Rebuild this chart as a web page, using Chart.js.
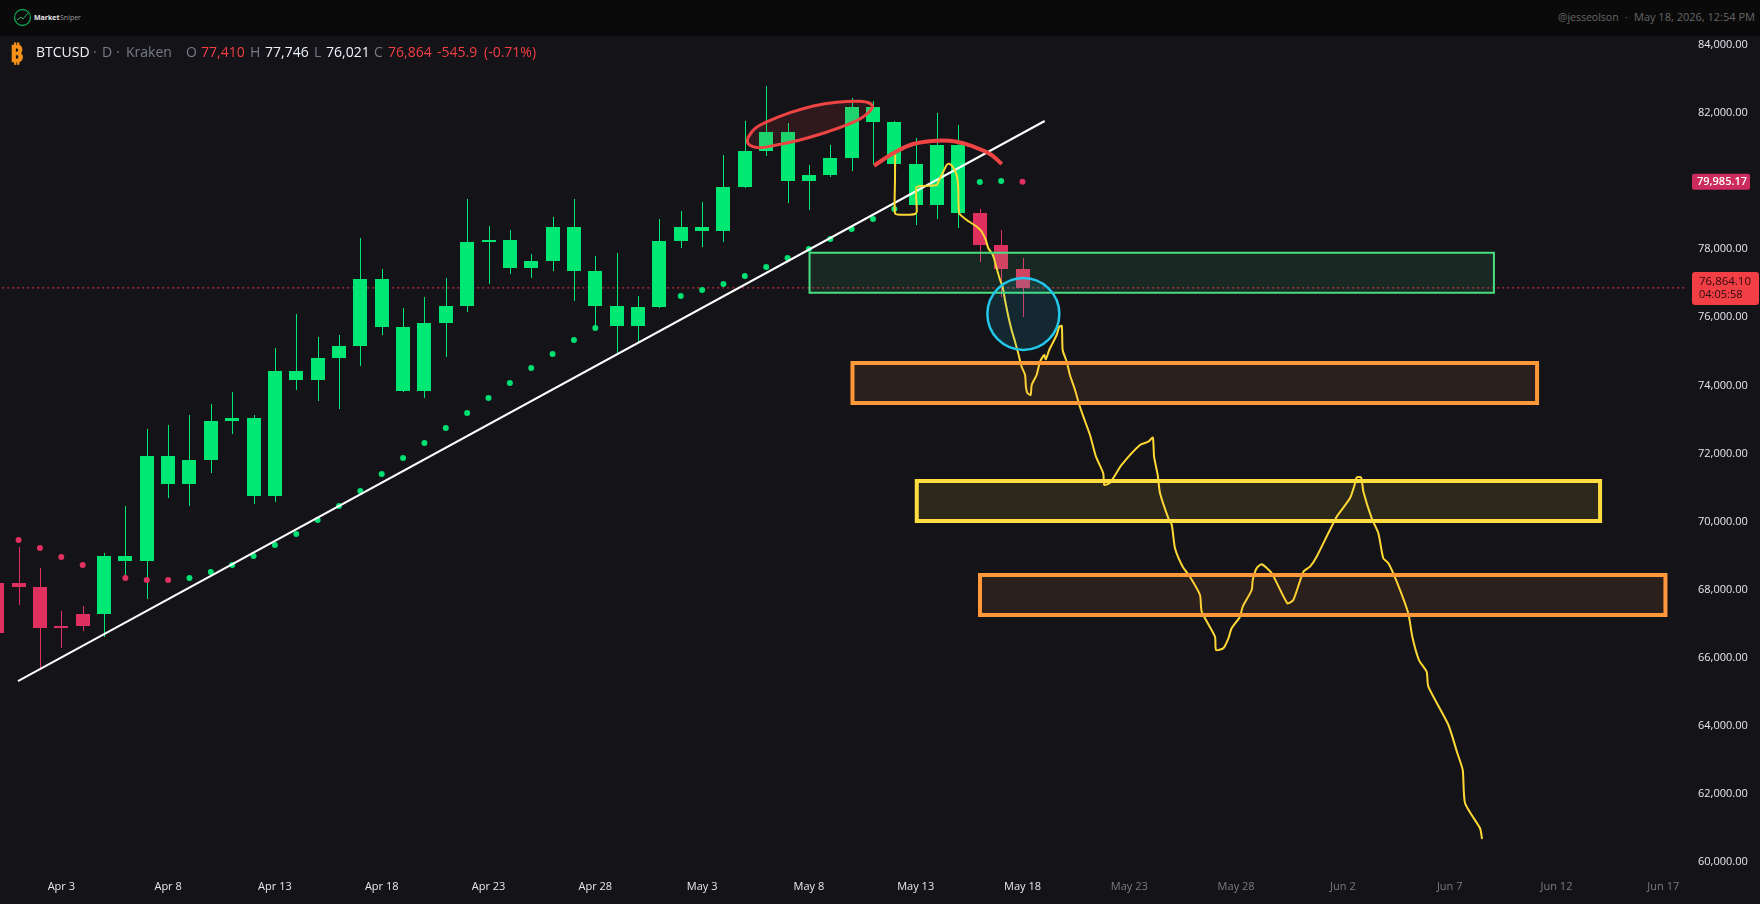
<!DOCTYPE html>
<html>
<head>
    <title>BTCUSD Daily - Market Sniper</title>
    <script src="https://cdn.jsdelivr.net/npm/chart.js@4"></script>
    <style>
        html, body { margin: 0; padding: 0; background: #131318; overflow: hidden; }
        #wrap { position: relative; width: 1760px; height: 904px; }
        canvas { position: absolute; left: 0; top: 0; }
        #topbar { position: absolute; left: 0; top: 0; width: 1760px; height: 36px; background: #0a0a0a; }
        #topbar span, #legend span { position: absolute; white-space: nowrap; }
        #legend span { top: 42px; font: 14px "Open Sans", sans-serif; line-height: 20px; }
        .w { color: #f0f3fa; }
        .g { color: #787b86; }
        .r { color: #f23f45; }
    </style>
</head>
<body>
<div id="wrap">
    <canvas id="chart" width="1760" height="904"></canvas>

    <!-- Top strip with the logo and the author line -->
    <div id="topbar">
        <svg width="20" height="20" style="position:absolute;left:13px;top:8px">
            <circle cx="9.5" cy="9.5" r="8" fill="none" stroke="#0e9f52" stroke-width="1.3"/>
            <polyline points="4,12 8,9 10,11 15,5" fill="none" stroke="#2fae5f" stroke-width="1"/>
        </svg>
        <span style="left:34px;top:13px;font:bold 7px 'Open Sans';color:#e8e8e8">Market</span>
        <span style="left:60px;top:13px;font:7px 'Open Sans';color:#999">Sniper</span>
        <span style="left:1558px;top:10px;font:10.5px 'Open Sans';color:#666">@jesseolson</span>
        <span style="left:1625px;top:10px;font:10.5px 'Open Sans';color:#666">·</span>
        <span style="left:1634px;top:9px;font:11px 'Open Sans';color:#666">May 18, 2026, 12:54 PM</span>
    </div>

    <!-- Symbol and OHLC line -->
    <div id="legend">
        <span style="left:10px;top:37px;font:bold 23px 'Noto Sans','DejaVu Sans';color:#f7931a;-webkit-text-stroke:0.7px #f7931a">₿</span>
        <span class="w" style="left:36px">BTCUSD</span>
        <span class="g" style="left:93px">·</span>
        <span class="g" style="left:102px">D</span>
        <span class="g" style="left:116px">·</span>
        <span class="g" style="left:126px">Kraken</span>
        <span class="g" style="left:186px">O</span>
        <span class="r" style="left:201px">77,410</span>
        <span class="g" style="left:250px">H</span>
        <span class="w" style="left:265px">77,746</span>
        <span class="g" style="left:314px">L</span>
        <span class="w" style="left:326px">76,021</span>
        <span class="g" style="left:374px">C</span>
        <span class="r" style="left:388px">76,864</span>
        <span class="r" style="left:437px">-545.9</span>
        <span class="r" style="left:484px">(-0.71%)</span>
    </div>
</div>

<script>
    // Candles, x is days after Apr 3
    const candleDays = [-3,-2,-1,0,1,2,3,4,5,6,7,8,9,10,11,12,13,14,15,16,17,18,19,20,21,22,23,24,25,26,27,28,29,30,31,32,33,34,35,36,37,38,39,40,41,42,43,44,45];
    const opens  = [68195,68195,68078,66932,67285,67285,68841,68841,71104,71104,71809,72954,70751,70751,74159,74159,74805,75158,75716,73836,73836,75833,76333,78213,77449,77449,77655,77361,76333,75745,75745,76303,78242,78536,78536,79829,80886,80005,80005,80181,80680,81738,80504,79300,79300,79065,79065,78125,77410];
    const highs  = [68195,69253,68636,67373,67520,69077,70457,72719,72837,73131,73454,73806,73131,75099,76098,75422,75481,78330,77420,76274,76597,77155,79476,78683,78565,77860,78947,79476,77801,77890,76626,78888,79123,79388,80769,81767,82796,81709,80475,81062,82443,82355,81767,81268,82002,81650,79182,78565,77746];
    const lows   = [66726,67549,65698,66286,66785,66609,68342,67725,70692,70457,71427,72572,70516,70575,73865,73542,73307,74570,75481,73806,73630,74834,76156,76979,77273,77155,77361,76480,75628,74952,75275,76274,78037,78066,78213,79799,80739,79358,79153,80122,80299,80475,80181,78712,78888,78624,77625,76597,76021];
    const closes = [66726,68078,66873,66873,66932,68988,68988,71926,71926,71809,72954,73042,73042,74423,74423,74805,75158,77126,77126,75716,75833,76333,78213,78272,78272,77655,78653,78653,77361,76333,76303,78242,78653,78653,79829,80886,81444,81444,80181,80680,82179,82179,81738,80504,81062,81062,78125,77410,76864];

    // Parabolic SAR dots, null where the dot is not visible
    const sarValues = [null,69458,69223,68959,68724,null,68342,68283,68283,68342,68518,68724,68988,69312,69635,70046,70457,70898,71397,71867,72308,72749,73189,73630,74071,74511,74923,75334,75686,null,null,null,76626,76803,76979,77214,77478,77743,78007,78301,78595,78888,79182,null,null,null,79975,80005,79985.17];
    const sarDownDays = [-2,-1,0,1,3,4,5,45];

    // Axis ticks
    const priceTicks = [84000,82000,78000,76000,74000,72000,70000,68000,66000,64000,62000,60000];
    const dateTickDays = [0,5,10,15,20,25,30,35,40,45,50,55,60,65,70,75];
    const dateTickLabels = ['Apr 3','Apr 8','Apr 13','Apr 18','Apr 23','Apr 28','May 3','May 8','May 13','May 18','May 23','May 28','Jun 2','Jun 7','Jun 12','Jun 17'];
    const lastTickedDay = 45; // later dates are in the future, drawn grey

    // Last price and SAR tags on the price scale
    const lastPrice = 76864.10;
    const countdown = '04:05:58';
    const sarPrice = 79985.17;

    // White trend line
    const trendDays = [-2.03, 46.04];
    const trendPrices = [65316, 81767];

    // Boxes: left day, right day, top price, bottom price
    const greenZone = [35.03, 67.07, 77898, 76723];
    const orangeZone1 = [37.04, 69.09, 74658, 73483];
    const yellowZone = [40.05, 72.04, 71192, 70017];
    const orangeZone2 = [43.01, 75.10, 68430, 67255];

    // Hand drawn red ellipse and red arc over the top
    const ellipseDays = [32.12,32.48,33.05,34.12,35.21,36.30,37.39,37.86,37.97,37.55,36.77,35.67,34.58,33.49,32.63,32.16,32.12];
    const ellipsePrices = [81259,81553,81747,82011,82208,82317,82346,82287,82158,81894,81650,81406,81209,81062,80983,81092,81259];
    const arcDays = [38.05,38.95,39.89,40.98,41.92,42.70,43.48,44.03];
    const arcPrices = [80454,80819,81092,81189,81159,81012,80798,80504];

    // Blue circle around the May 18 wick
    const circleDay = [45.04];
    const circlePrice = [76098];

    // Hand drawn yellow projection
    const pathDays = [39.04,39.03,39.03,39.27,39.73,39.97,40.05,40.03,40.36,40.98,41.10,41.29,41.45,41.57,41.73,41.92,41.99,42.04,42.39,42.86,43.09,43.28,43.40,43.61,43.79,43.95,44.07,44.18,44.34,44.49,44.65,44.80,44.96,45.12,45.16,45.22,45.38,45.43,45.66,45.82,46.02,46.09,46.25,46.60,46.72,46.84,46.88,47.07,47.22,47.46,47.66,47.85,48.16,48.44,48.78,48.83,49.10,49.64,50.50,50.89,51.10,51.16,51.33,51.44,51.83,51.99,52.14,52.50,52.84,53.31,53.39,54.01,54.06,54.40,54.64,54.79,55.18,55.31,55.73,55.78,55.96,56.20,56.67,57.40,57.68,58.15,58.46,58.77,59.71,60.33,60.57,60.65,60.85,60.96,61.35,61.66,61.89,62.13,62.52,63.06,63.25,63.56,63.92,64.00,64.94,65.36,65.61,65.72,66.42,66.51];
    const pathPrices = [80769,80034,79056,79015,79015,79035,79103,79820,79858,79887,80034,80278,80475,80513,80425,80181,79837,79056,78859,78662,78515,78272,78028,77831,77440,77096,76900,76509,76018,75628,75284,74943,74549,74306,73962,73786,73718,74012,74306,74697,74893,74767,75040,75481,75724,75745,75040,74697,74306,73865,73424,73081,72543,71906,71418,71074,71142,71662,72249,72346,72464,71906,71368,70830,70096,69899,69215,68674,68380,67843,67352,66618,66227,66277,66571,66864,67205,67499,67990,68283,68627,68744,68480,67599,67696,68527,68674,68968,70143,70683,71124,71300,71300,70877,70096,69655,68921,68774,68233,67305,66618,65933,65589,65149,64024,63192,62702,61724,60989,60695];

    const UP = '#00e874';
    const DOWN = '#e03060';
    const SAR_UP = '#00e072';

    const candleColors = opens.map((o, i) => closes[i] >= o ? UP : DOWN);
    const points = (xs, ys) => xs.map((x, i) => ({ x: x, y: ys[i] }));

    // Box as a closed line
    function zoneData(z) {
        return [{x: z[0], y: z[2]}, {x: z[1], y: z[2]}, {x: z[1], y: z[3]}, {x: z[0], y: z[3]}, {x: z[0], y: z[2]}];
    }
    function zoneDataset(z, color, fill, width, order) {
        return {
            type: 'line', data: zoneData(z), borderColor: color, backgroundColor: fill,
            borderWidth: width, fill: 'shape', tension: 0, pointRadius: 0,
            borderJoinStyle: 'miter', borderCapStyle: 'square', order: order
        };
    }

    // Bars come out on fractional pixels, snap them so the candles stay crisp
    const snapCandles = {
        id: 'snapCandles',
        afterDatasetsUpdate(chart) {
            chart.getSortedVisibleDatasetMetas().forEach(meta => {
                if (meta.type !== 'bar') return;
                meta.data.forEach(el => {
                    el.x = Math.round(el.x) + (el.width % 2 ? 0.5 : 0);
                    el.y = Math.round(el.y);
                    el.base = Math.round(el.base);
                    el.height = el.base - el.y;
                });
            });
        }
    };

    // Tags on the price scale
    const priceTags = {
        id: 'priceTags',
        afterDraw(chart) {
            const ctx = chart.ctx;
            const y = chart.scales.y;
            const fmt = v => v.toLocaleString('en-US', { minimumFractionDigits: 2, maximumFractionDigits: 2 });

            let py = y.getPixelForValue(sarPrice);
            ctx.save();
            ctx.fillStyle = '#cc2b5e';
            ctx.beginPath();
            ctx.roundRect(1692, py - 8, 58, 16, 2);
            ctx.fill();
            ctx.fillStyle = '#ffffff';
            ctx.font = '600 11px "Open Sans"';
            ctx.textBaseline = 'middle';
            ctx.textAlign = 'left';
            ctx.fillText(fmt(sarPrice), 1697, py);

            py = y.getPixelForValue(lastPrice);
            ctx.fillStyle = '#f23f45';
            ctx.beginPath();
            ctx.roundRect(1692, py - 16, 67, 33, 3);
            ctx.fill();
            ctx.fillStyle = '#2a0a0c';
            ctx.font = '11.5px "Open Sans"';
            ctx.fillText(fmt(lastPrice), 1699, py - 6);
            ctx.font = '11px "Open Sans"';
            ctx.fillText(countdown, 1699, py + 7);
            ctx.restore();
        }
    };

    new Chart(document.getElementById('chart'), {
        data: {
            datasets: [
                // last price line, behind everything
                {
                    type: 'line',
                    data: [{x: -3, y: lastPrice}, {x: 76.08, y: lastPrice}],
                    borderColor: '#f23645', borderWidth: 1, borderDash: [2, 3],
                    pointRadius: 0, order: 20
                },
                // wicks
                {
                    type: 'bar',
                    data: candleDays.map((d, i) => ({ x: d, y: [lows[i], highs[i]] })),
                    backgroundColor: candleColors, barThickness: 1, grouped: false,
                    borderWidth: 0, inflateAmount: 0, order: 19
                },
                // bodies
                {
                    type: 'bar',
                    data: candleDays.map((d, i) => ({ x: d, y: [opens[i], closes[i]] })),
                    backgroundColor: candleColors, barThickness: 14, grouped: false,
                    borderWidth: 0, inflateAmount: 0, order: 18
                },
                // SAR dots
                {
                    type: 'line',
                    data: points(candleDays, sarValues),
                    showLine: false, pointRadius: 3, pointBorderWidth: 0,
                    pointBackgroundColor: c => sarDownDays.includes(candleDays[c.dataIndex]) ? DOWN : SAR_UP,
                    order: 17
                },
                // trend line
                {
                    type: 'line', data: points(trendDays, trendPrices),
                    borderColor: '#ffffff', borderWidth: 2, pointRadius: 0, order: 16
                },
                // yellow projection
                {
                    type: 'line', data: points(pathDays, pathPrices),
                    borderColor: '#fdd835', borderWidth: 2, pointRadius: 0, tension: 0.2,
                    borderJoinStyle: 'round', borderCapStyle: 'round', order: 15
                },
                zoneDataset(greenZone, '#4ade80', 'rgba(76,222,128,0.10)', 2, 14),
                zoneDataset(orangeZone1, '#ff9838', 'rgba(255,152,56,0.10)', 4, 13),
                zoneDataset(yellowZone, '#ffdc40', 'rgba(255,220,64,0.11)', 4, 12),
                zoneDataset(orangeZone2, '#ff9838', 'rgba(255,152,56,0.10)', 4, 11),
                // circle
                {
                    type: 'line', data: points(circleDay, circlePrice), showLine: false,
                    pointRadius: 36, pointBorderWidth: 2.5, pointBorderColor: '#22c7ea',
                    pointBackgroundColor: 'rgba(34,199,234,0.12)', order: 10
                },
                // ellipse
                {
                    type: 'line', data: points(ellipseDays, ellipsePrices),
                    borderColor: '#ef4444', backgroundColor: 'rgba(239,68,68,0.13)', borderWidth: 3,
                    fill: 'shape', tension: 0.4, pointRadius: 0, order: 9
                },
                // arc
                {
                    type: 'line', data: points(arcDays, arcPrices),
                    borderColor: '#ef4444', borderWidth: 4, tension: 0.4, pointRadius: 0, order: 8
                }
            ]
        },
        options: {
            responsive: false,
            animation: false,
            events: [],
            // autoPadding would push the plot in for the first date label
            layout: { autoPadding: false, padding: { top: 36 } },
            plugins: { legend: { display: false }, tooltip: { enabled: false } },
            scales: {
                x: {
                    type: 'linear',
                    offset: false,
                    min: -2.87,
                    max: 76.25,
                    grid: { display: false, offset: false, drawTicks: false },
                    border: { display: false },
                    afterFit(scale) { scale.height = 31; },
                    afterBuildTicks(scale) { scale.ticks = dateTickDays.map(v => ({ value: v })); },
                    ticks: {
                        autoSkip: false,
                        maxRotation: 0,
                        padding: 7,
                        font: { family: 'Open Sans', size: 11 },
                        color: c => c.tick.value > lastTickedDay ? '#7c7c7c' : '#e6e8ee',
                        callback: v => dateTickLabels[dateTickDays.indexOf(v)]
                    }
                },
                y: {
                    type: 'linear',
                    position: 'right',
                    min: 59676,
                    max: 84264,
                    grid: { display: false, drawTicks: false },
                    border: { display: false },
                    afterFit(scale) { scale.width = 70; },
                    afterBuildTicks(scale) { scale.ticks = priceTicks.map(v => ({ value: v })); },
                    ticks: {
                        autoSkip: false,
                        padding: 8,
                        font: { family: 'Open Sans', size: 11 },
                        color: '#e6e8ee',
                        callback: v => v.toLocaleString('en-US', { minimumFractionDigits: 2 })
                    }
                }
            }
        },
        plugins: [snapCandles, priceTags]
    });
</script>
</body>
</html>
